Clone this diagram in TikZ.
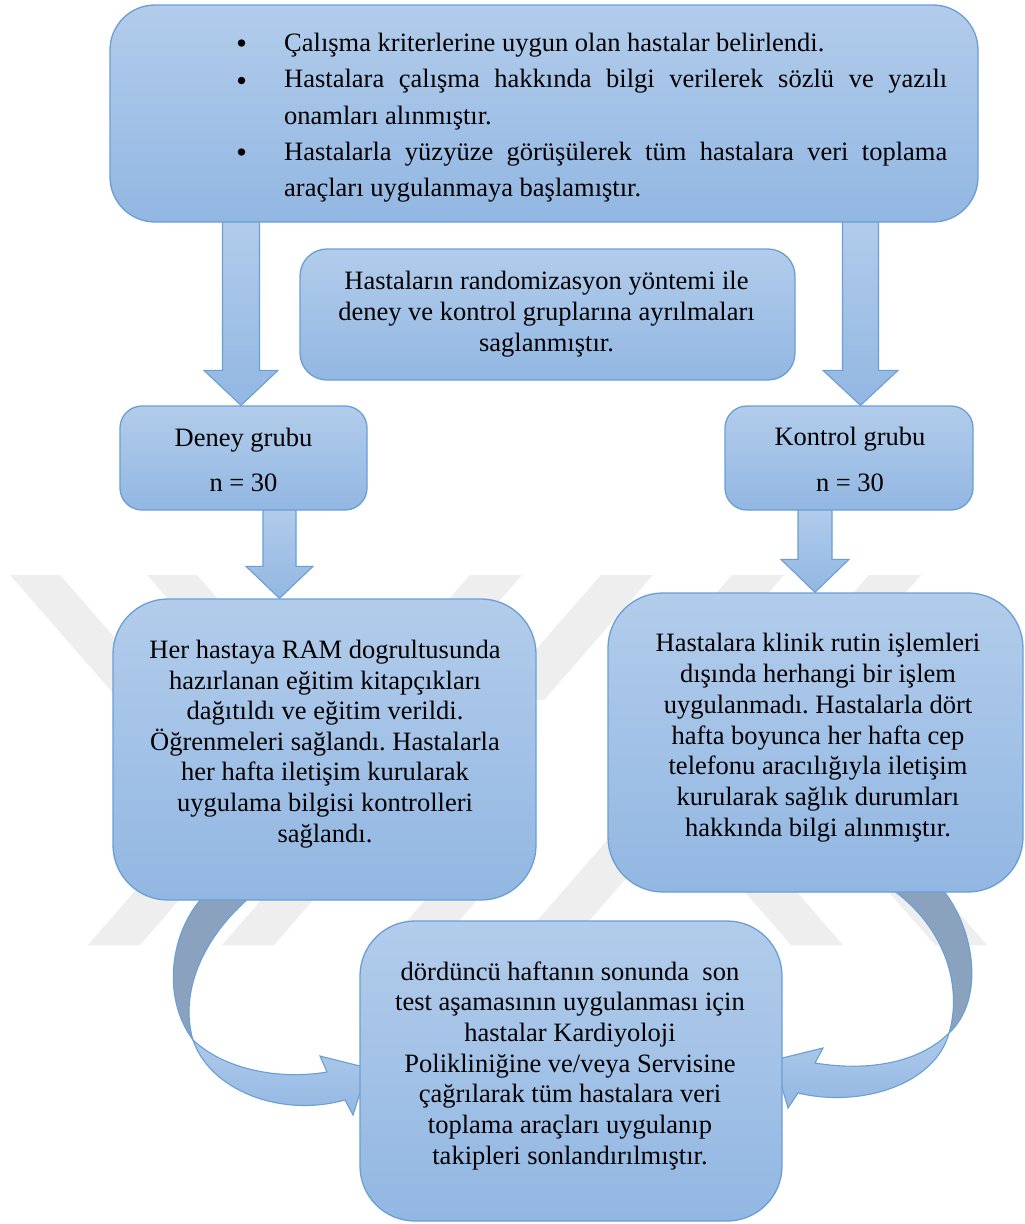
\documentclass[tikz,border=0pt]{standalone}
\usepackage{fontspec}
\setmainfont{Liberation Serif}
\frenchspacing
\usetikzlibrary{calc}
\definecolor{boxtop}{HTML}{B2CCEB}
\definecolor{boxbot}{HTML}{92B7E2}
\definecolor{boxline}{HTML}{6A9FD6}
\definecolor{backarrow}{HTML}{8AA2BE}
\definecolor{wm}{HTML}{EEEEEE}
\pgfdeclarelayer{wmlayer}
\pgfdeclarelayer{bg}
\pgfsetlayers{wmlayer,bg,main}
\tikzset{
  box/.style={draw=boxline, line width=1.3pt, top color=boxtop, bottom color=boxbot, rectangle, inner sep=0pt},
  ln/.style={font=\fontsize{26.5}{30.7}\selectfont, inner sep=0pt, anchor=base},
  blockarrow/.style={draw=boxline, line width=1.1pt, top color=boxtop, bottom color=boxbot},
  backpart/.style={draw=boxline, line width=1.1pt, fill=backarrow},
  frontpart/.style={draw=boxline, line width=1.1pt, top color=boxtop!90!boxbot, bottom color=boxbot},
  wmband/.style={fill=wm, draw=none},
  bullet/.style={circle, fill=black, inner sep=0pt, minimum size=7.5pt},
}
% down block arrow: #1 x, #2 from node, #3 to node, #4 half shaft, #5 half head, #6 head length
\newcommand\dnarrow[6]{%
  \path[blockarrow] let \p1=(#2.south), \p2=(#3.north) in
    ({#1pt-#4pt},{\y1+3pt}) -- ({#1pt+#4pt},{\y1+3pt}) -- ({#1pt+#4pt},{\y2+#6pt}) --
    ({#1pt+#5pt},{\y2+#6pt}) -- ({#1pt},{\y2}) -- ({#1pt-#5pt},{\y2+#6pt}) --
    ({#1pt-#4pt},{\y2+#6pt}) -- cycle;}
\begin{document}
\begin{tikzpicture}[x=1pt,y=-1pt]
\useasboundingbox (0,0) rectangle (1025,1224);

% watermark
\begin{pgfonlayer}{wmlayer}
\fill[white] (0,0) rectangle (1025,1224);
\foreach \a in {10,147}
  \path[wmband] (\a,575) -- (\a+50,575) -- (\a+50+109,700) -- (\a+109,700) -- cycle;
\foreach \a in {470,601,732,869}
  \path[wmband] (\a,575) -- (\a+52,575) -- (\a+52-109,700) -- (\a-109,700) -- cycle;
\foreach \a in {88,222,386,516}
  \path[wmband] (\a,945) -- (\a+52,945) -- (\a+52+100,830) -- (\a+100,830) -- cycle;
\foreach \a in {791,935}
  \path[wmband] (\a,945) -- (\a+52,945) -- (\a+52-100,830) -- (\a-100,830) -- cycle;
\end{pgfonlayer}

% boxes
\node[box, minimum width=868pt, minimum height=217pt, rounded corners=45pt] (top) at (544,113.5) {};
\node[box, minimum width=495pt, minimum height=131pt, rounded corners=27pt] (mid) at (547.5,314.5) {};
\node[box, minimum width=247pt, minimum height=104pt, rounded corners=22pt] (deney) at (243.5,458) {};
\node[box, minimum width=248pt, minimum height=104pt, rounded corners=22pt] (kontrol) at (849,458) {};
\node[box, minimum width=423pt, minimum height=301pt, rounded corners=55pt] (dbox) at (324.5,749.5) {};
\node[box, minimum width=415pt, minimum height=299pt, rounded corners=55pt] (kbox) at (815.5,742.5) {};
\node[box, minimum width=422pt, minimum height=300pt, rounded corners=55pt] (son) at (571,1071) {};

% top box text
\node[bullet] (b1) at (241.5,43) {};
\node[bullet] (b2) at (241.5,80.5) {};
\node[bullet] (b3) at (241.5,152) {};
\node[ln, anchor=base west] (t1) at (284,51) {Çalışma kriterlerine uygun olan hastalar belirlendi.};
\node[ln, anchor=base west] (t2) at (284,87.5) {\makebox[663pt][s]{Hastalara çalışma hakkında bilgi verilerek sözlü ve yazılı}};
\node[ln, anchor=base west] (t3) at (284,124) {onamları alınmıştır.};
\node[ln, anchor=base west] (t4) at (284,160) {\makebox[663pt][s]{Hastalarla yüzyüze görüşülerek tüm hastalara veri toplama}};
\node[ln, anchor=base west] (t5) at (284,196) {araçları uygulanmaya başlamıştır.};

% middle box text
\foreach \s [count=\i] in {Hastaların randomizasyon yöntemi ile, deney ve kontrol gruplarına ayrılmaları, saglanmıştır.}
  \node[ln] (m\i) at (546.5,{289.5+31*(\i-1)}) {\s};

% group boxes
\node[ln] (d1) at (243.5,446.5) {Deney grubu};
\node[ln] (d2) at (243.5,491.7) {n = 30};
\node[ln] (k1) at (850,445) {Kontrol grubu};
\node[ln] (k2) at (850,491.7) {n = 30};

% big boxes text
\foreach \s [count=\i] in {Her hastaya RAM dogrultusunda, hazırlanan eğitim kitapçıkları, dağıtıldı ve eğitim verildi., Öğrenmeleri sağlandı. Hastalarla, her hafta iletişim kurularak, uygulama bilgisi kontrolleri, sağlandı.}
  \node[ln] (dl\i) at (325,{658.5+30.6*(\i-1)}) {\s};
\foreach \s [count=\i] in {Hastalara klinik rutin işlemleri, dışında herhangi bir işlem, uygulanmadı. Hastalarla dört, hafta boyunca her hafta cep, telefonu aracılığıyla iletişim, kurularak sağlık durumları, hakkında bilgi alınmıştır.}
  \node[ln] (kl\i) at (818,{651.7+30.8*(\i-1)}) {\s};
\foreach \s [count=\i] in {dördüncü haftanın sonunda\ \ son, test aşamasının uygulanması için, hastalar Kardiyoloji, Polikliniğine ve/veya Servisine, çağrılarak tüm hastalara veri, toplama araçları uygulanıp, takipleri sonlandırılmıştır.}
  \node[ln] (sl\i) at (570,{980+30.7*(\i-1)}) {\s};

% connectors
\begin{pgfonlayer}{bg}
\dnarrow{241}{top}{deney}{18.5}{37}{35}
\dnarrow{860.5}{top}{kontrol}{18}{37.5}{35}
\dnarrow{279.5}{deney}{dbox}{16.5}{33.5}{32}
\dnarrow{815}{kontrol}{kbox}{17}{34}{33}

% left curved arrow dbox -> son
\coordinate (lc1) at (203,897);
\coordinate (lc2) at (250,897);
\coordinate (lt) at (193,1040);
\coordinate (ltip) at (368,1068);
\path[backpart] (lc1) .. controls (172,930) and (160,995) .. (lt)
   .. controls (181,1000) and (195,945) .. (lc2) -- cycle;
\path[frontpart] (lt) .. controls (225,1070) and (280,1080) .. (327,1072)
   -- (320,1056) -- (ltip) -- (353,1115) -- (345,1100)
   .. controls (280,1118) and (210,1090) .. (lt) -- cycle;

% right curved arrow kbox -> son
\coordinate (rc1) at (943,890);
\coordinate (rc2) at (893,890);
\coordinate (rt) at (949,1033);
\coordinate (rtip) at (774,1060);
\path[backpart] (rc1) .. controls (975,930) and (985,1000) .. (rt)
   .. controls (962,990) and (948,930) .. (rc2) -- cycle;
\path[frontpart] (rt) .. controls (920,1062) and (870,1072) .. (815,1063)
   -- (823,1048) -- (rtip) -- (788,1108) -- (798,1093)
   .. controls (860,1108) and (935,1085) .. (rt) -- cycle;
\end{pgfonlayer}
\end{tikzpicture}
\end{document}
